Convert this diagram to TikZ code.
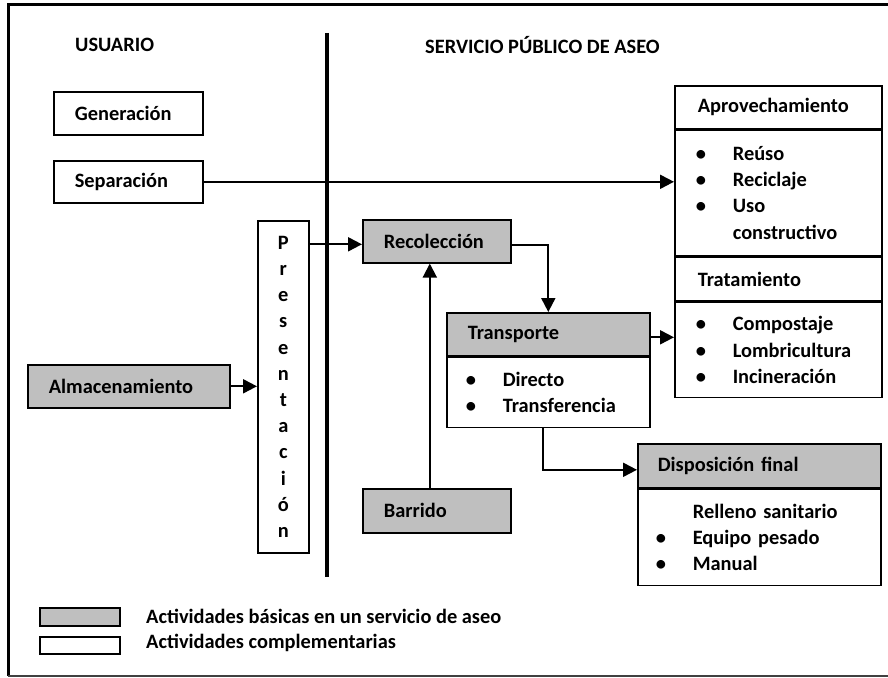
\documentclass[tikz,border=0pt]{standalone}
\usepackage{fontspec}
\setmainfont{Carlito}
\usepackage{tikz}
\usetikzlibrary{arrows.meta,positioning,calc}
\definecolor{aseogray}{HTML}{BFBFBF}
\newcommand{\aseofont}{\fontsize{20.4}{26.2}\selectfont\bfseries}
\newcommand{\itm}[1]{\hspace*{-2pt}\makebox[37pt][l]{\textbullet}#1}
\newcommand{\noitm}[1]{\hspace*{35pt}#1}
\tikzset{
  caja/.style={draw=black,line width=1.6pt,inner xsep=21pt,inner ysep=0pt,anchor=north west,align=left,font=\aseofont},
  basica/.style={caja,fill=aseogray},
  compl/.style={caja,fill=white},
  flecha/.style={line width=2pt,-{Triangle[length=14pt,width=14pt]}}
}

\begin{document}
\begin{tikzpicture}[x=1pt,y=-1pt,font=\aseofont]
  \useasboundingbox (0,0) rectangle (888,677);
  \draw[line width=3pt] (895,5) -- (8,5) -- (8,676);
  \draw[line width=2pt,black!75] (8,676) -- (895,676);
  \coordinate (divtop) at (327,33);
  \coordinate (divbot) at (327,577);
  \draw[line width=3.5pt] (divtop) -- (divbot);
  \node[anchor=west,inner sep=0pt] (usuario) at (75,45) {USUARIO};
  \node[anchor=west,inner sep=0pt] (servicio) at (425,45) {SERVICIO PÚBLICO DE ASEO};

  \node[compl,text width=107pt,minimum height=43pt] (gen) at (53,91) {Generación};
  \node[compl,text width=107pt,minimum height=42pt] (sep) at (53,160) {Separación};
  \node[basica,text width=160pt,minimum height=43pt] (alm) at (27,364) {Almacenamiento};
  \node[compl,inner xsep=0pt,text width=51pt,align=center,minimum height=332pt] (pres) at (257,220)
    {P\\r\\e\\s\\e\\n\\t\\a\\c\\i\\ó\\n};
  \node[basica,text width=106pt,minimum height=43pt] (rec) at (362,219) {Recolección};
  \node[basica,text width=106pt,minimum height=44pt] (bar) at (362,488) {Barrido};

  \node[basica,text width=161pt,minimum height=43pt] (thead) at (446,312) {Transporte};
  \node[compl,text width=161pt,minimum height=70pt] (tbody) at (thead.south west)
    {\itm{Directo}\\\itm{Transferencia}};

  \node[compl,inner xsep=23pt,text width=161pt,minimum height=43pt] (aphead) at (674,85) {Aprovechamiento};
  \node[compl,inner xsep=23pt,text width=161pt,minimum height=125pt] (apbody) at (aphead.south west)
    {\itm{Reúso}\\\itm{Reciclaje}\\\itm{Uso}\\\noitm{constructivo}};
  \node[compl,inner xsep=23pt,text width=161pt,minimum height=44pt] (trhead) at (apbody.south west) {Tratamiento};
  \node[compl,inner xsep=23pt,text width=161pt,minimum height=95pt] (trbody) at (trhead.south west)
    {\itm{Compostaje}\\\itm{Lombricultura}\\\itm{Incineración}};

  \node[basica,inner xsep=20pt,text width=203pt,minimum height=44pt] (dphead) at (637,443) {Disposición final};
  \node[compl,inner xsep=20pt,text width=203pt,minimum height=96pt] (dpbody) at (dphead.south west)
    {\noitm{Relleno sanitario}\\\itm{Equipo pesado}\\\itm{Manual}};

  \draw[flecha] (sep.east) -- (sep.east -| aphead.west);
  \draw[flecha] (alm.east) -- (alm.east -| pres.west);
  \draw[flecha] ([yshift=-3pt]rec.west -| pres.east) -- ([yshift=-3pt]rec.west);
  \draw[flecha] ([yshift=-4pt]rec.east) -| (thead.north);
  \draw[flecha] ([xshift=-7pt]bar.north) -- ([xshift=-7pt]rec.south);
  \draw[flecha] ([yshift=-3pt]thead.east) -- ([yshift=-3pt]thead.east -| trbody.west);
  \draw[flecha] ([xshift=-5pt]tbody.south) |- ([yshift=-4pt]dphead.west);

  \node[basica,inner xsep=0pt,minimum width=80pt,minimum height=18pt] (leybas) at (39,607) {};
  \node[compl,inner xsep=0pt,minimum width=80pt,minimum height=17pt] (leycom) at (39,636) {};
  \node[anchor=west,inner sep=0pt] (txtbas) at (146,616) {Actividades básicas en un servicio de aseo};
  \node[anchor=west,inner sep=0pt] (txtcom) at (146,643) {Actividades complementarias};
\end{tikzpicture}
\end{document}
